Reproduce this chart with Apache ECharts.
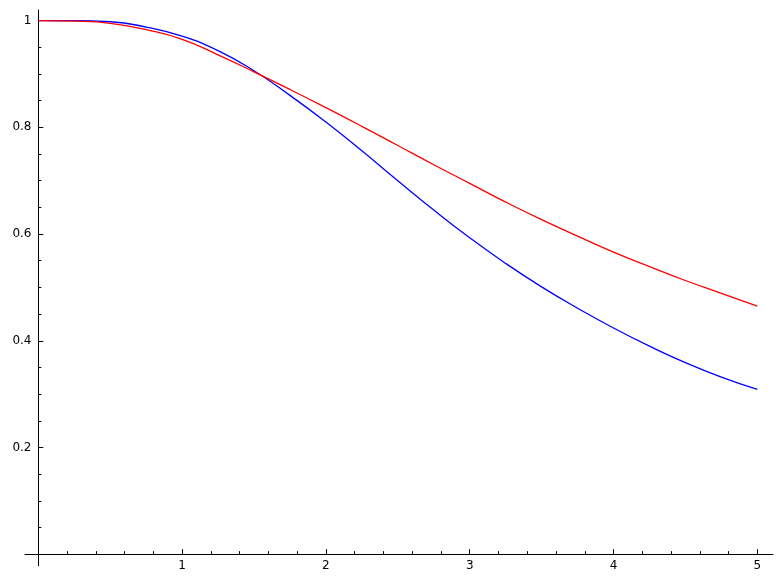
<!DOCTYPE html>
<html>
<head>
<meta charset="utf-8">
<script src="https://cdn.jsdelivr.net/npm/echarts@6/dist/echarts.min.js"></script>
<style>html,body{margin:0;padding:0;background:#fff;}#c{width:781px;height:584px;}</style>
</head>
<body>
<div id="c"></div>
<script>
const xValues = [0, 0.25, 0.5, 0.75, 1, 1.25, 1.5, 1.75, 2, 2.25, 2.5, 2.75, 3, 3.25, 3.5, 3.75, 4, 4.25, 4.5, 4.75, 5];
const blueValues = [1.000, 1.000, 0.998, 0.988, 0.971, 0.944, 0.906, 0.860, 0.810, 0.756, 0.700, 0.645, 0.593, 0.545, 0.501, 0.461, 0.424, 0.390, 0.359, 0.332, 0.309];
const redValues = [1.000, 0.999, 0.995, 0.983, 0.965, 0.936, 0.904, 0.871, 0.837, 0.802, 0.766, 0.730, 0.695, 0.660, 0.627, 0.596, 0.566, 0.539, 0.513, 0.489, 0.465];
const xTicks = [0, 1, 2, 3, 4, 5];
const xTickLabels = [1, 2, 3, 4, 5];
const yTicks = [0, 0.2, 0.4, 0.6, 0.8, 1];
const yTickLabels = [0.2, 0.4, 0.6, 0.8, 1];

const chart = echarts.init(document.getElementById('c'), null, {renderer: 'canvas'});
const font = 'DejaVu Sans';
const pair = (ys) => xValues.map((x, i) => [x, ys[i]]);
chart.setOption({
  animation: false,
  backgroundColor: '#ffffff',
  grid: {left: 25, right: 8, top: 10, bottom: 18.3, containLabel: false, outerBoundsMode: 'none'},
  xAxis: {
    type: 'value', min: -0.0925, max: 5.109, splitNumber: 5,
    axisLine: {show: true, onZero: true, lineStyle: {color: '#000', width: 1}},
    axisTick: {show: true, inside: true, length: 5, lineStyle: {color: '#000'}, customValues: xTicks},
    minorTick: {show: true, splitNumber: 5, length: 3, lineStyle: {color: '#000'}},
    axisLabel: {show: true, customValues: xTickLabels, color: '#000', fontFamily: font, fontSize: 12, margin: -5.5},
    splitLine: {show: false}
  },
  yAxis: {
    type: 'value', min: -0.0216, max: 1.02, splitNumber: 5,
    axisLine: {show: true, onZero: true, lineStyle: {color: '#000', width: 1}},
    axisTick: {show: true, inside: true, length: 5, lineStyle: {color: '#000'}, customValues: yTicks},
    minorTick: {show: true, splitNumber: 4, length: 3, lineStyle: {color: '#000'}},
    axisLabel: {show: true, customValues: yTickLabels, color: '#000', fontFamily: font, fontSize: 12, margin: -6.5},
    splitLine: {show: false}
  },
  series: [
    {type: 'line', data: pair(blueValues), smooth: true, showSymbol: false, lineStyle: {color: '#0000ff', width: 1.3}, itemStyle: {color: '#0000ff'}},
    {type: 'line', data: pair(redValues), smooth: true, showSymbol: false, lineStyle: {color: '#ff0000', width: 1.3}, itemStyle: {color: '#ff0000'}}
  ]
});
</script>
</body>
</html>
